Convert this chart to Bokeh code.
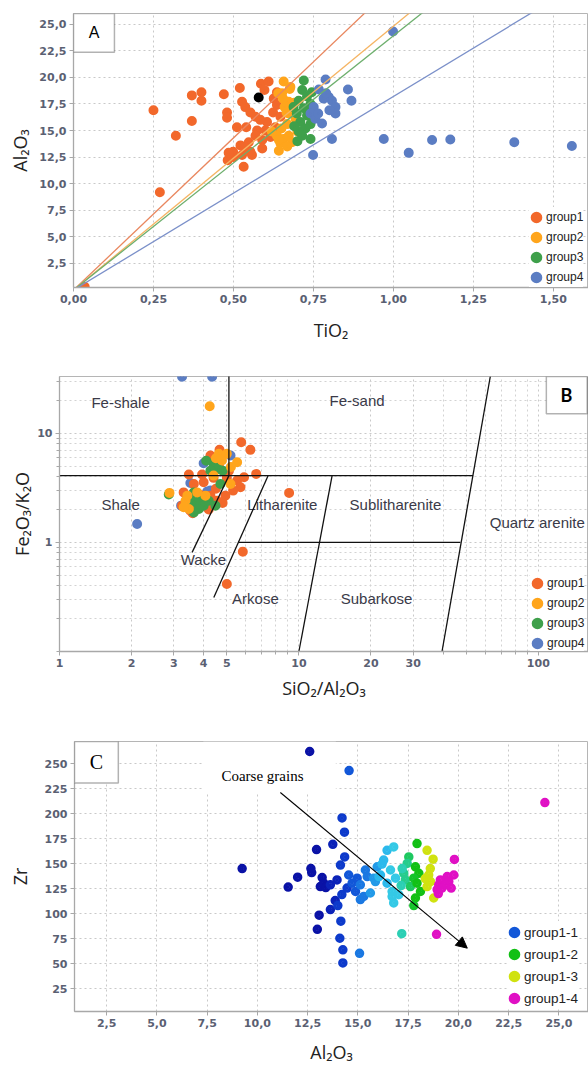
from bokeh.plotting import figure
from bokeh.layouts import column
from bokeh.models import (Range1d, FixedTicker, CustomJSTickFormatter, Legend, LegendItem,
                          Label, BoxAnnotation, Arrow, NormalHead, ColumnDataSource)
from bokeh.transform import linear_cmap
from bokeh.core.properties import value
from bokeh.embed import file_html
from bokeh.resources import INLINE

# ======================= Panel A : Al2O3 vs TiO2 =======================
A_G1_TIO2 = [0.035, 0.25, 0.27, 0.32, 0.37, 0.37, 0.40, 0.40, 0.47, 0.48, 0.48, 0.52, 0.527, 0.537,
             0.553, 0.569, 0.586, 0.61, 0.597, 0.626, 0.636, 0.624, 0.605, 0.584, 0.574, 0.511, 0.54,
             0.569, 0.60, 0.616, 0.59, 0.548, 0.522, 0.537, 0.499, 0.553, 0.59, 0.527, 0.50, 0.482,
             0.485, 0.532, 0.558, 0.631, 0.647, 0.636]
A_G1_AL2O3 = [0.3, 16.9, 9.2, 14.5, 18.3, 15.9, 18.6, 17.8, 18.4, 16.7, 16.2, 19.0, 17.7, 17.2,
              16.7, 16.3, 19.4, 19.6, 18.8, 18.0, 17.4, 16.7, 15.8, 16.0, 15.0, 15.3, 15.3,
              14.5, 15.0, 14.4, 14.1, 13.9, 13.6, 13.4, 13.0, 13.0, 13.3, 12.7, 12.5, 12.2,
              12.9, 11.6, 12.7, 15.3, 16.3, 18.6]
A_G2_TIO2 = [0.657, 0.678, 0.676, 0.652, 0.673, 0.666, 0.673, 0.668, 0.65, 0.636, 0.656, 0.673,
             0.647, 0.642, 0.683, 0.668, 0.62, 0.694, 0.64, 0.66, 0.69, 0.70, 0.642, 0.655]
A_G2_AL2O3 = [19.6, 19.1, 18.9, 18.5, 17.7, 16.7, 16.6, 15.6, 15.2, 14.5, 14.2, 14.5,
              13.8, 13.1, 13.9, 13.5, 14.9, 16.1, 18.5, 17.2, 17.6, 14.9, 14.1, 18.0]
A_G3_TIO2 = [0.72, 0.715, 0.73, 0.704, 0.741, 0.72, 0.698, 0.73, 0.709, 0.741, 0.725, 0.704,
             0.741, 0.715, 0.688, 0.69, 0.745, 0.70, 0.735]
A_G3_AL2O3 = [19.7, 18.8, 18.2, 17.8, 17.5, 17.1, 16.6, 16.4, 15.8, 15.6, 15.2, 14.9,
              14.2, 14.5, 17.2, 15.4, 18.6, 14.0, 16.9]
A_G4_TIO2 = [0.999, 0.788, 0.767, 0.858, 0.869, 0.798, 0.808, 0.782, 0.819, 0.819, 0.751, 0.741,
             0.756, 0.777, 0.808, 0.749, 0.97, 1.048, 1.121, 1.178, 1.378, 1.558, 0.79, 0.80, 0.765]
A_G4_AL2O3 = [24.3, 19.8, 18.85, 18.85, 17.8, 18.15, 17.8, 18.0, 17.2, 16.6, 17.2, 16.6,
              16.1, 15.65, 14.2, 12.7, 14.2, 12.9, 14.1, 14.15, 13.9, 13.55, 18.5, 16.9, 16.6]
A_REF_TIO2 = [0.579]
A_REF_AL2O3 = [18.1]
A_RATIO_SLOPES = [28.6, 24.8, 23.9, 18.2]        # Al2O3/TiO2 lines for group1..group4
A_X_TICKS = [0.0, 0.25, 0.5, 0.75, 1.0, 1.25, 1.5]
A_Y_TICKS = [2.5, 5.0, 7.5, 10.0, 12.5, 15.0, 17.5, 20.0, 22.5, 25.0]

# ======================= Panel B : Herron diagram =======================
B_G1_SIAL = [5.74, 6.27, 4.66, 4.27, 4.63, 6.63, 3.47, 3.94, 5.52, 5.7, 5.31, 4.93, 4.55, 4.27,
             3.64, 3.3, 3.25, 3.52, 3.76, 9.1, 4.0, 5.83, 5.0, 4.4, 5.0, 4.8, 4.2, 3.6, 5.1, 5.9,
             4.5, 3.9]
B_G1_FEK = [8.27, 7.04, 7.04, 6.24, 5.06, 4.24, 4.18, 4.18, 3.68, 3.2, 2.98, 2.68, 2.41, 2.68,
            3.43, 2.87, 2.17, 1.95, 2.25, 2.84, 3.55, 0.82, 0.415, 3.9, 3.9, 2.3, 2.0, 1.85, 4.5,
            3.95, 3.1, 2.7]
B_G2_SIAL = [4.24, 2.88, 4.63, 5.0, 4.77, 5.52, 5.2, 3.42, 3.36, 3.76, 4.07, 3.47, 3.3, 5.18, 4.4, 4.5]
B_G2_FEK = [17.7, 2.84, 6.47, 6.47, 5.62, 5.42, 4.9, 2.68, 2.41, 2.87, 2.68, 2.02, 2.1, 3.43, 4.09, 5.9]
B_G3_SIAL = [4.4, 4.63, 4.27, 4.8, 4.7, 3.88, 4.0, 3.7, 3.64, 3.52, 4.2, 3.42, 3.82, 4.48, 2.86, 3.64, 4.1]
B_G3_FEK = [5.25, 4.71, 4.54, 4.54, 3.43, 2.59, 2.17, 2.33, 2.87, 2.59, 2.41, 2.3, 2.02, 2.17, 2.75, 1.88, 5.6]
B_G4_SIAL = [3.25, 4.34, 2.11, 4.0, 3.22, 3.52, 4.14, 5.18, 4.07, 4.27]
B_G4_FEK = [33.0, 33.0, 1.476, 5.3, 2.17, 3.5, 2.93, 6.24, 2.41, 2.98]
B_BOUND_X = [[5.1, 5.1], [1.0, 53.4], [5.1, 3.58], [7.44, 4.41], [5.59, 47.2], [13.76, 10.0], [63.0, 39.6]]
B_BOUND_Y = [[4.09, 40.0], [4.09, 4.09], [4.09, 0.81], [4.09, 0.313], [1.0, 1.0], [4.09, 0.1], [33.1, 0.1]]
B_REGION_NAMES = ["Fe-shale", "Fe-sand", "Shale", "Litharenite", "Sublitharenite", "Quartz arenite",
                  "Wacke", "Arkose", "Subarkose"]
B_REGION_X = [1.80, 17.5, 1.80, 8.53, 25.3, 99.0, 3.99, 6.58, 21.1]
B_REGION_Y = [19.1, 19.9, 2.22, 2.22, 2.22, 1.52, 0.694, 0.304, 0.304]
B_X_TICKS = [1, 2, 3, 4, 5, 10, 20, 30, 100]
B_Y_TICKS = [1, 10]

# ======================= Panel C : Zr vs Al2O3 =======================
C_G11_AL2O3 = [9.24, 11.53, 12.0, 12.6, 12.66, 12.7, 12.94, 12.98, 13.07, 13.13, 13.22, 13.3, 13.4,
               13.63, 13.63, 13.75, 13.87, 13.96, 14.0, 14.1, 14.13, 14.15, 14.2, 14.21, 14.25, 14.25,
               14.33, 14.34, 14.46, 14.54, 14.56, 14.71, 14.88, 14.96, 15.08, 15.12, 15.12, 15.29,
               15.37, 15.46, 15.62, 15.79, 15.87, 15.96, 16.05, 16.12, 16.2, 16.28, 16.45, 16.45,
               16.62, 16.7, 16.78, 16.78, 16.87, 17.03, 16.7]
C_G11_ZR = [145, 126.5, 136.4, 262, 145, 141, 164, 84.3, 98.4, 127, 136, 130.4, 126,
            128.8, 104, 169.3, 113, 133.7, 108, 75.4, 148.5, 92.5, 119, 195.6, 63.8, 50.7,
            181.4, 156.7, 125.5, 138.6, 243, 130.4, 122.1, 135.4, 60.3, 128.8, 114, 117.2,
            143.6, 137, 120.6, 135.4, 132, 146.8, 137, 138.6, 149.5, 153.5, 163.3, 130.4,
            143.6, 122.1, 166.6, 110.7, 135.4, 118.9, 117]
C_G12_AL2O3 = [17.18, 17.28, 17.53, 17.45, 17.36, 17.61, 17.94, 17.86, 18.03, 17.78, 17.94, 18.11,
               17.86, 17.78, 17.15, 17.2]
C_G12_ZR = [80, 140.3, 156.7, 150.2, 133.7, 127, 170, 146.8, 140.3, 135.4, 130.4, 122.1,
            115.6, 108, 128, 145]
C_G13_AL2O3 = [18.44, 18.74, 18.52, 18.61, 18.44, 18.77, 18.6, 18.35]
C_G13_ZR = [163.3, 154.4, 138.6, 132, 127, 115.6, 145, 135]
C_G14_AL2O3 = [19.8, 19.77, 19.44, 19.1, 19.02, 19.52, 19.34, 18.94, 19.18, 19.64, 18.91, 24.3, 19.0]
C_G14_ZR = [154.2, 138.6, 137, 133.7, 128.8, 132, 128.8, 124, 125.5, 125.5, 79.3, 211, 120]
C_ARROW_FROM = (11.14, 221.0)
C_ARROW_TO = (20.44, 65.5)
C_X_TICKS = [2.5, 5.0, 7.5, 10.0, 12.5, 15.0, 17.5, 20.0, 22.5, 25.0]
C_Y_TICKS = [25, 50, 75, 100, 125, 150, 175, 200, 225, 250]

GROUP_LABELS = ["group1", "group2", "group3", "group4"]
GROUP_COLORS = ["#F2682B", "#FFA51C", "#3FA04B", "#5B7DC3"]
LINE_COLORS = ["#E9875F", "#F5B463", "#6DAF6D", "#7B90C9"]
C_LABELS = ["group1-1", "group1-2", "group1-3", "group1-4"]


def style(p):
    p.frame_align = False
    p.outline_line_color = "#b5b5b5"
    p.background_fill_color = "white"
    p.border_fill_color = "white"
    for ax in list(p.xaxis) + list(p.yaxis):
        ax.axis_line_color = "#a8a8a8"
        ax.axis_line_width = 1.3
        ax.major_tick_line_color = "#a8a8a8"
        ax.major_tick_in = 0
        ax.major_tick_out = 4
        ax.minor_tick_line_color = None
        ax.major_label_text_font = "DejaVu Sans"
        ax.major_label_text_font_style = "bold"
        ax.major_label_text_font_size = "11px"
        ax.major_label_text_color = "#5a6072"
        ax.major_label_standoff = 3
        ax.axis_label_text_font = "Open Sans"
        ax.axis_label_text_font_style = "normal"
        ax.axis_label_text_font_size = "18px"
        ax.axis_label_text_color = "#222222"
    for g in list(p.xgrid) + list(p.ygrid):
        g.grid_line_color = "#c9c9c9"
        g.grid_line_dash = "2 3"


# dots are drawn as a small circle with a thick outline of the same colour
# (visible diameter = size + line width), so the legend symbol comes out the same size
def dots(p, xs, ys, color, size=4.0, lw=6.0):
    return p.scatter(x=xs, y=ys, size=size, fill_color=color, line_color=color, line_width=lw)


def add_legend(p, labels, renderers, indices, x, y, pitch, font_size):
    items = [LegendItem(label=lab, renderers=[r], index=i)
             for lab, r, i in zip(labels, renderers, indices)]
    leg = Legend(items=items, location=(x, y), glyph_width=14, glyph_height=pitch,
                 label_height=pitch, spacing=0, padding=0, margin=0,
                 label_standoff=3, background_fill_color="white", background_fill_alpha=1,
                 border_line_color=None, label_text_font="Liberation Sans",
                 label_text_font_size=font_size, label_text_color="#222222", level="underlay")
    p.add_layout(leg)


# ---------------------------- Panel A ----------------------------
pA = figure(width=588, height=345, x_range=Range1d(0, 1.61), y_range=Range1d(0.24, 26.0),
            output_backend="svg", toolbar_location=None,
            min_border_left=73, min_border_right=0, min_border_top=13, min_border_bottom=58)
style(pA)
pA.xaxis.axis_label = "TiO₂"
pA.yaxis.axis_label = "Al₂O₃"
pA.xaxis.ticker = FixedTicker(ticks=A_X_TICKS)
pA.yaxis.ticker = FixedTicker(ticks=A_Y_TICKS)
pA.xgrid.ticker = FixedTicker(ticks=A_X_TICKS)
pA.ygrid.ticker = FixedTicker(ticks=A_Y_TICKS)
pA.xaxis.formatter = CustomJSTickFormatter(code="return tick.toFixed(2).replace('.', ',');")
pA.yaxis.formatter = CustomJSTickFormatter(code="return tick.toFixed(1).replace('.', ',');")
pA.xaxis.axis_label_standoff = 12
pA.yaxis.axis_label_standoff = 4

rendA = []
for xs, ys, c in zip([A_G1_TIO2, A_G2_TIO2, A_G3_TIO2, A_G4_TIO2],
                     [A_G1_AL2O3, A_G2_AL2O3, A_G3_AL2O3, A_G4_AL2O3], GROUP_COLORS):
    rendA.append(dots(pA, xs, ys, c))
dots(pA, A_REF_TIO2, A_REF_AL2O3, "black")

x_end = pA.x_range.end
src_lines = ColumnDataSource(dict(x0=[0.0] * 4, y0=[0.0] * 4, x1=[x_end] * 4,
                                  y1=[s * x_end for s in A_RATIO_SLOPES], c=LINE_COLORS))
pA.segment("x0", "y0", "x1", "y1", source=src_lines, line_color="c", line_width=1.3)

add_legend(pA, GROUP_LABELS, rendA, [0, 0, 0, 0], 456, 0, 20, "12px")
pA.add_layout(BoxAnnotation(left=0, right=0.128, bottom=22.36, top=26.0, fill_color="white",
                            fill_alpha=1, line_color="black", line_width=1.5))
pA.add_layout(Label(x=0.064, y=24.2, text="A", text_align="center", text_baseline="middle",
                    text_font="Liberation Sans", text_font_size="16px", text_color="black"))

# ---------------------------- Panel B ----------------------------
pB = figure(width=588, height=360, x_axis_type="log", y_axis_type="log",
            x_range=Range1d(1, 162), y_range=Range1d(0.1, 33.1),
            output_backend="svg", toolbar_location=None,
            min_border_left=59, min_border_right=0, min_border_top=31, min_border_bottom=54)
style(pB)
bx_minor = [k * 10 ** d for d in range(0, 3) for k in range(1, 10) if k * 10 ** d not in B_X_TICKS]
by_minor = [round(k * 10 ** d, 3) for d in range(-1, 2) for k in range(1, 10) if k * 10 ** d not in B_Y_TICKS]
tx = FixedTicker(ticks=B_X_TICKS, minor_ticks=bx_minor)
ty = FixedTicker(ticks=B_Y_TICKS, minor_ticks=by_minor)
pB.xaxis.ticker = tx
pB.yaxis.ticker = ty
pB.xgrid.ticker = tx
pB.ygrid.ticker = ty
for g in list(pB.xgrid) + list(pB.ygrid):
    g.minor_grid_line_color = "#d3d3d3"
    g.minor_grid_line_dash = "2 3"
for ax in list(pB.xaxis) + list(pB.yaxis):
    ax.minor_tick_line_color = "#a8a8a8"
    ax.minor_tick_in = 0
    ax.minor_tick_out = 3
pB.xaxis.formatter = CustomJSTickFormatter(code="return String(tick);")
pB.yaxis.formatter = CustomJSTickFormatter(code="return String(tick);")
pB.xaxis.axis_label = "SiO₂/Al₂O₃"
pB.yaxis.axis_label = "Fe₂O₃/K₂O"
pB.xaxis.axis_label_standoff = 6
pB.yaxis.axis_label_standoff = 0

pB.text(x=B_REGION_X, y=B_REGION_Y, text=B_REGION_NAMES, text_font=value("Liberation Sans"),
        text_font_size="15px", text_align="center", text_baseline="middle", text_color="#3a3a48")
rB = {}
for key, xs, ys in [(3, B_G4_SIAL, B_G4_FEK), (0, B_G1_SIAL, B_G1_FEK),
                    (2, B_G3_SIAL, B_G3_FEK), (1, B_G2_SIAL, B_G2_FEK)]:
    rB[key] = dots(pB, xs, ys, GROUP_COLORS[key])
pB.multi_line(xs=B_BOUND_X, ys=B_BOUND_Y, line_color="#111111", line_width=1.3)

add_legend(pB, GROUP_LABELS, [rB[0], rB[1], rB[2], rB[3]], [0, 0, 0, 0], 471, -2, 20, "12px")
pB.add_layout(BoxAnnotation(left=108, right=160, bottom=15.07, top=33.1, fill_color="white",
                            fill_alpha=1, line_color="black", line_width=1.5))
pB.add_layout(Label(x=131, y=22.2, text="B", text_align="center", text_baseline="middle",
                    text_font="Lato", text_font_style="bold", text_font_size="18px", text_color="black"))

# ---------------------------- Panel C ----------------------------
pC = figure(width=588, height=361, x_range=Range1d(0.9, 26.47), y_range=Range1d(2.2, 272),
            output_backend="svg", toolbar_location=None,
            min_border_left=74, min_border_right=0, min_border_top=36, min_border_bottom=52)
style(pC)
pC.xaxis.ticker = FixedTicker(ticks=C_X_TICKS)
pC.yaxis.ticker = FixedTicker(ticks=C_Y_TICKS)
pC.xgrid.ticker = FixedTicker(ticks=C_X_TICKS)
pC.ygrid.ticker = FixedTicker(ticks=C_Y_TICKS)
pC.xaxis.formatter = CustomJSTickFormatter(code="return tick.toFixed(1).replace('.', ',');")
pC.yaxis.formatter = CustomJSTickFormatter(code="return tick.toFixed(0);")
pC.xaxis.axis_label = "Al₂O₃"
pC.yaxis.axis_label = "Zr"
pC.xaxis.axis_label_standoff = 10
pC.yaxis.axis_label_standoff = 10

# white area behind the "Coarse grains" note
pC.add_layout(BoxAnnotation(left=7.31, right=13.9, bottom=220.6, top=272, fill_color="white",
                            fill_alpha=1, line_color=None, level="underlay"))

pal11 = ["#0a12a6", "#0b22b8", "#0d3acb", "#1257d8", "#1a78e2", "#229ae8", "#2cb9ec", "#34c9e6"]
pal12 = ["#2ccfb4", "#26cc8c", "#1ec860", "#14c42a", "#12c015"]
c11 = linear_cmap("x", pal11, 13.0, 17.0)
c12 = linear_cmap("x", pal12, 17.1, 18.0)
r11 = pC.scatter(x=C_G11_AL2O3, y=C_G11_ZR, size=3.5, line_width=6, fill_color=c11, line_color=c11)
r12 = pC.scatter(x=C_G12_AL2O3, y=C_G12_ZR, size=3.5, line_width=6, fill_color=c12, line_color=c12)
r13 = dots(pC, C_G13_AL2O3, C_G13_ZR, "#D0E210", 3.5)
r14 = dots(pC, C_G14_AL2O3, C_G14_ZR, "#E010C4", 3.5)

pC.add_layout(Arrow(end=NormalHead(size=11, fill_color="black", line_color="black"),
                    x_start=C_ARROW_FROM[0], y_start=C_ARROW_FROM[1],
                    x_end=C_ARROW_TO[0], y_end=C_ARROW_TO[1], line_color="black", line_width=1.1))
pC.add_layout(Label(x=10.25, y=237.5, text="Coarse grains", text_align="center", text_baseline="middle",
                    text_font="Liberation Serif", text_font_size="15px", text_color="black"))
add_legend(pC, C_LABELS, [r11, r12, r13, r14], [31, 11, 0, 0], 433, 2, 22, "13.5px")
pC.add_layout(BoxAnnotation(left=0.9, right=3.08, bottom=230.5, top=272, fill_color="white",
                            fill_alpha=1, line_color="black", line_width=1.5))
pC.add_layout(Label(x=1.99, y=251.3, text="C", text_align="center", text_baseline="middle",
                    text_font="Liberation Serif", text_font_size="20px", text_color="black"))

layout = column(pA, pB, pC, spacing=0)
open("out.html", "w").write(file_html(layout, INLINE))
